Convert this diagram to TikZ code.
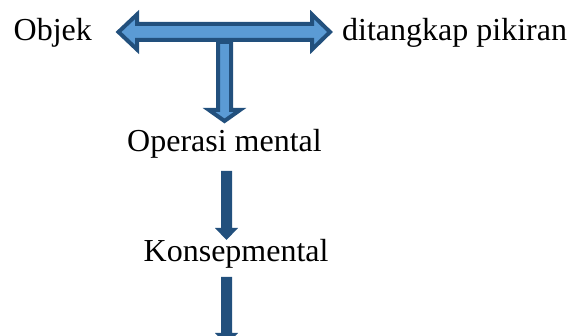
\documentclass[tikz,border=0pt]{standalone}
\usepackage{fontspec}
\setmainfont{Liberation Serif}
\begin{document}
\begin{tikzpicture}[x=1pt,y=-1pt,
  lbl/.style={anchor=base west,inner sep=0pt,font=\fontsize{32}{38}\selectfont},
  hollowarrow/.style={fill=arrowlight,draw=arrowdark,line width=4pt,line join=miter},
  solidarrow/.style={fill=arrowdark,draw=none}]
\definecolor{arrowdark}{HTML}{22507D}
\definecolor{arrowlight}{HTML}{5B9BD5}
\useasboundingbox (0,0) rectangle (568,336);
\clip (0,0) rectangle (568,336);
% text nodes
\node[lbl] (objek) at (13.5,40.7) {Objek};
\node[lbl] (pikiran) at (342,40.7) {ditangkap pikiran};
\node[lbl] (operasi) at (127,152) {Operasi mental};
\node[lbl] (konsep) at (143.5,262) {Konsepmental};
% T-shaped arrow: down stem
\coordinate (stemtop) at (224.5,42);
\draw[hollowarrow] ([xshift=-6.5pt]stemtop) -- ++(0,68) -- ++(-9,0) -- (224.5,121)
  -- (240,110) -- ++(-9,0) -- ([xshift=6.5pt]stemtop) -- cycle;
% T-shaped arrow: double horizontal arrow
\draw[hollowarrow] (118.5,32) -- (137,14.5) -- (137,24) -- (312,24) -- (312,14.5)
  -- (330,32) -- (312,49.5) -- (312,40) -- (137,40) -- (137,49.5) -- cycle;
% solid arrows
\coordinate (a1top) at (226.5,171);
\fill[solidarrow] ([xshift=-5.5pt]a1top) -- ++(0,57) -- ++(-6,0) -- (226.5,240)
  -- (238,228) -- ++(-6,0) -- ([xshift=5.5pt]a1top) -- cycle;
\coordinate (a2top) at (226.5,277);
\fill[solidarrow] ([xshift=-5.5pt]a2top) -- ++(0,56) -- ++(-6,0) -- (226.5,345)
  -- (238,333) -- ++(-6,0) -- ([xshift=5.5pt]a2top) -- cycle;
\end{tikzpicture}
\end{document}
